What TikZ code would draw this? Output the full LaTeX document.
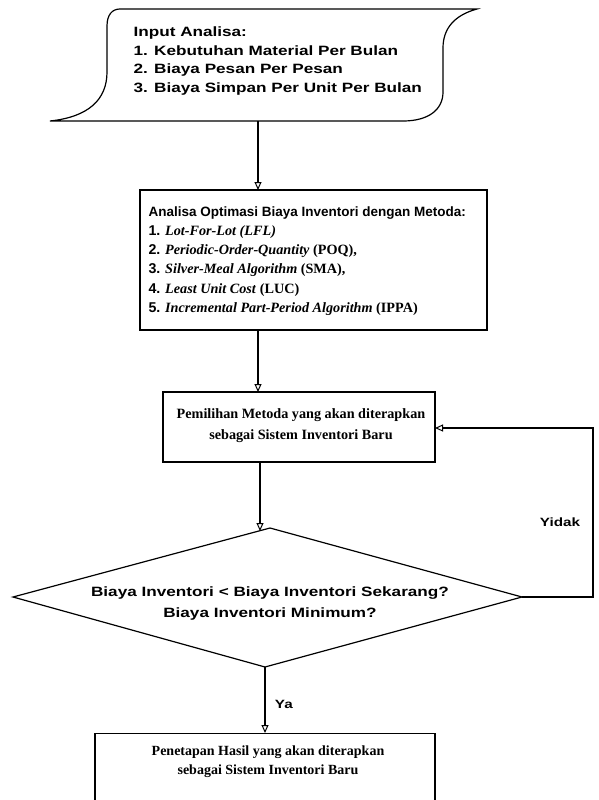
\documentclass[tikz,border=0pt]{standalone}
\usepackage{fontspec}
\setmainfont{Liberation Serif}
\setsansfont{Liberation Sans}
\newfontfamily\wsans[FakeStretch=1.27]{Liberation Sans}
\usetikzlibrary{arrows.meta}
\begin{document}
\begin{tikzpicture}[x=1pt,y=-1pt,line width=1.2pt,
  arr/.style={-{Triangle[open,length=8pt,width=7pt,line width=1pt]}},
  box/.style={draw,rectangle,line width=1.2pt,inner sep=0pt},
  lbl/.style={font=\wsans\bfseries\fontsize{12}{14}\selectfont},
]
\useasboundingbox (0,0) rectangle (598,800);
\clip (0,0) rectangle (598,800);

% input shape
\draw (120,9) -- (477,9)
  .. controls (455,15) and (443,28) .. (443,48)
  -- (443,92)
  .. controls (443,110) and (428,121) .. (403,121)
  -- (50,121)
  .. controls (88,117) and (107,100) .. (107,72)
  -- (107,26)
  .. controls (107,15) and (112,9) .. (120,9) -- cycle;
\node[anchor=west,align=left,inner sep=0pt,
  font=\wsans\bfseries\fontsize{13.5}{18.5}\selectfont] (inp) at (133,61)
  {Input Analisa:\\1. Kebutuhan Material Per Bulan\\2. Biaya Pesan Per Pesan\\3. Biaya Simpan Per Unit Per Bulan};
\coordinate (inpbot) at (258,121);

% analysis box
\node[box,minimum width=347pt,minimum height=140pt] (ana) at (313.5,260) {};
\node[anchor=west,align=left,inner sep=0pt,
  font=\bfseries\fontsize{14.2}{19.2}\selectfont] (anatxt) at (148,261)
  {\textsf{\fontsize{13.5}{19.2}\selectfont Analisa Optimasi Biaya Inventori dengan Metoda:}\\
   \textsf{1.} \textit{Lot-For-Lot (LFL)}\\
   \textsf{2.} \textit{Periodic-Order-Quantity} (POQ),\\
   \textsf{3.} \textit{Silver-Meal Algorithm} (SMA),\\
   \textsf{4.} \textit{Least Unit Cost} (LUC)\\
   \textsf{5.} \textit{Incremental Part-Period Algorithm} (IPPA)};

% pemilihan box
\node[box,minimum width=272pt,minimum height=70pt] (pem) at (299,427) {};
\node[align=center,inner sep=0pt,font=\bfseries\fontsize{14.2}{21}\selectfont] (pemtxt) at (301,426)
  {Pemilihan Metoda yang akan diterapkan\\sebagai Sistem Inventori Baru};

% decision diamond
\coordinate (dl) at (13,597);
\coordinate (dt) at (270,528);
\coordinate (dr) at (522,597);
\coordinate (db) at (265,667);
\draw (dl) -- (dt) -- (dr) -- (db) -- cycle;
\node[align=center,inner sep=0pt,font=\wsans\bfseries\fontsize{13.5}{21}\selectfont] (dec) at (270,604)
  {Biaya Inventori < Biaya Inventori Sekarang?\\Biaya Inventori Minimum?};

% penetapan box
\node[box,minimum width=340pt,minimum height=140pt,anchor=north] (pen) at (265,733) {};
\node[align=center,inner sep=0pt,font=\bfseries\fontsize{14}{19}\selectfont] (pentxt) at (268,762)
  {Penetapan Hasil yang akan diterapkan\\sebagai Sistem Inventori Baru};

% connectors
\draw[arr] (inpbot) -- (258,190);
\draw[arr] (258,330) -- (258,392);
\draw[arr] (260,462) -- (260,531);
\draw[arr] (db) -- (265,733);
\draw[arr] (dr) -- (593,597) -- (593,428) -- (435,428);

\node[lbl,anchor=west] (ya) at (271,704) {Ya};
\node[lbl] (yidak) at (560,522) {Yidak};
\end{tikzpicture}
\end{document}
